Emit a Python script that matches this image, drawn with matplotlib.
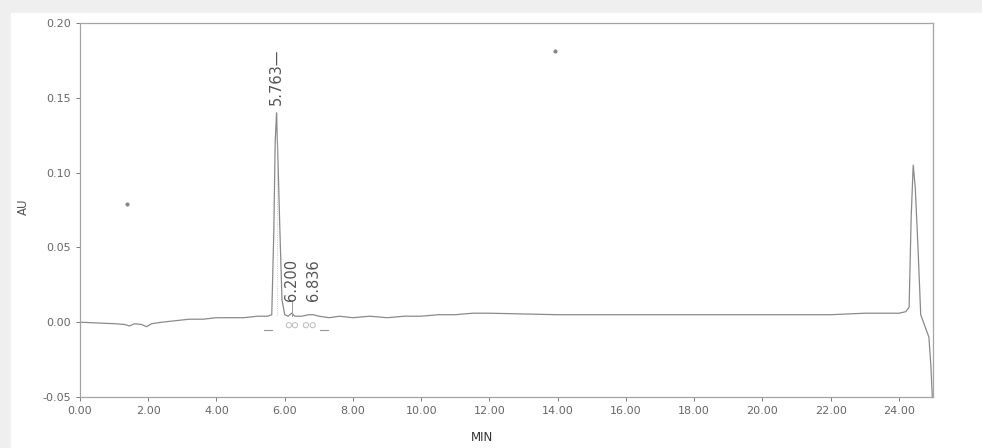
import matplotlib.pyplot as plt
from matplotlib.ticker import MultipleLocator, FormatStrFormatter

plt.rcParams['font.family'] = ['DejaVu Sans']

# chromatogram trace (minutes, AU)
time = [0.0, 0.5, 1.0, 1.3, 1.45, 1.6, 1.8, 1.95, 2.1, 2.4, 2.8, 3.2, 3.6, 4.0,
        4.4, 4.8, 5.2, 5.5, 5.62, 5.68, 5.72, 5.76, 5.80, 5.86, 5.92, 6.0, 6.1,
        6.2, 6.3, 6.5, 6.7, 6.84, 7.0, 7.3, 7.6, 8.0, 8.5, 9.0, 9.5, 10.0, 10.5,
        11.0, 11.5, 12.0, 14.0, 16.0, 18.0, 20.0, 22.0, 23.0, 24.0, 24.2, 24.3,
        24.36, 24.42, 24.48, 24.56, 24.64, 24.72, 24.8, 24.88, 24.94, 24.98]
absorb = [0.0, -0.0005, -0.001, -0.0015, -0.0025, -0.001, -0.0015, -0.003, -0.001,
          0.0, 0.001, 0.002, 0.002, 0.003, 0.003, 0.003, 0.004, 0.004, 0.005, 0.06,
          0.12, 0.14, 0.11, 0.06, 0.015, 0.005, 0.004, 0.006, 0.004, 0.004, 0.005,
          0.005, 0.004, 0.003, 0.004, 0.003, 0.004, 0.003, 0.004, 0.004, 0.005,
          0.005, 0.006, 0.006, 0.005, 0.005, 0.005, 0.005, 0.005, 0.006, 0.006,
          0.007, 0.01, 0.07, 0.105, 0.09, 0.05, 0.005, 0.0, -0.005, -0.01, -0.03,
          -0.05]

# peak labels
peak_times = [5.763, 6.200, 6.836]
peak_labels = ['5.763\u2014', '6.200', '6.836']
label_heights = [0.145, 0.014, 0.014]

# integration marks under the baseline
mark_times = [5.52, 7.15]
mark_levels = [-0.005, -0.005]
ring_times = [6.12, 6.3, 6.62, 6.82]
ring_levels = [-0.002, -0.002, -0.002, -0.002]

# stray specks on the scan
speck_x = [1.38, 13.93]
speck_y = [0.079, 0.181]

fig = plt.figure(figsize=(9.82, 4.48), dpi=100, facecolor='#efefef')
paper = plt.Rectangle((11 / 982, 0), 1, 1 - 13 / 448, transform=fig.transFigure,
                      color='white', zorder=-10)
fig.add_artist(paper)
ax = fig.add_axes([80 / 982, 51 / 448, 853 / 982, 374 / 448])
ax.set_facecolor('white')

ax.plot(time, absorb, color='#8a8a8a', lw=0.9)
for t, lab, h in zip(peak_times, peak_labels, label_heights):
    ax.text(t, h, lab, rotation=90, ha='center', va='bottom', fontsize=10.5,
            color='#555555')
ax.plot([6.2, 6.2], [0.004, 0.014], color='#999999', lw=0.7)
ax.plot([5.763, 5.763], [0.005, 0.14], color='#bbbbbb', lw=0.6, ls=':')
for t, lv in zip(mark_times, mark_levels):
    ax.plot([t - 0.12, t + 0.12], [lv, lv], color='#999999', lw=0.8)
ax.scatter(ring_times, ring_levels, s=14, facecolors='none', edgecolors='#bbbbbb',
           linewidths=0.7)
ax.scatter(speck_x, speck_y, s=4, color='#888888')

ax.set_xlim(0, 25)
ax.set_ylim(-0.05, 0.20)
ax.xaxis.set_major_locator(MultipleLocator(2))
ax.yaxis.set_major_locator(MultipleLocator(0.05))
ax.xaxis.set_major_formatter(FormatStrFormatter('%.2f'))
ax.yaxis.set_major_formatter(FormatStrFormatter('%.2f'))
ax.tick_params(labelsize=8, colors='#666666', length=3, width=0.6)
for s in ax.spines.values():
    s.set_color('#a5a5a5')
    s.set_linewidth(0.9)
ax.set_xlabel('MIN', fontsize=8.5, color='#333333')
ax.xaxis.set_label_coords(0.471, -0.092)
ax.set_ylabel('AU', fontsize=8.5, color='#555555')
ax.yaxis.set_label_coords(-0.059, 0.51)

fig.savefig('out.png', dpi=100, facecolor=fig.get_facecolor())
